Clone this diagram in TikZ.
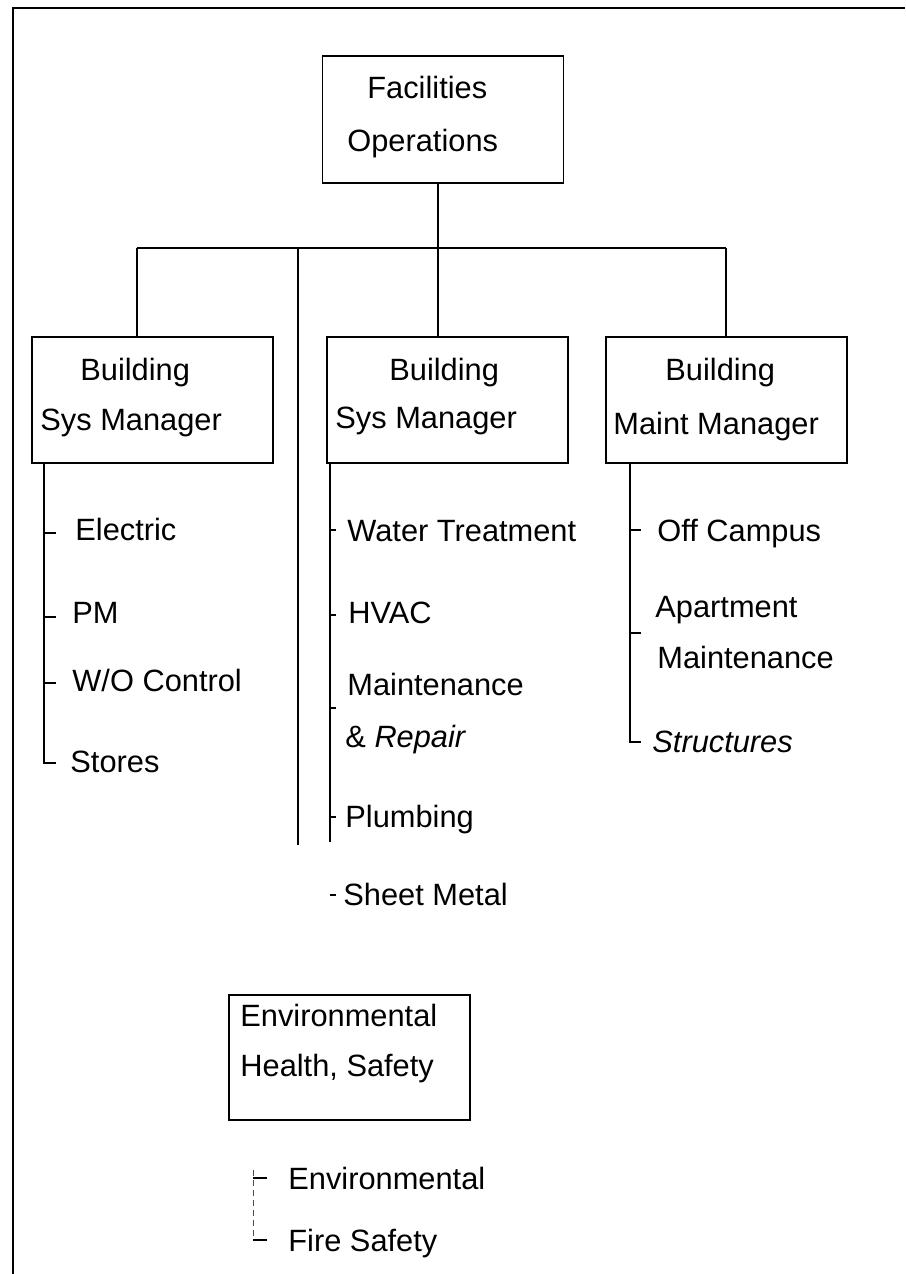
\documentclass[tikz,border=0pt]{standalone}
\usepackage{fontspec}
\setmainfont{Liberation Sans}
\begin{document}
\begin{tikzpicture}[x=0.5pt,y=-0.5pt,
  box/.style={draw=black, line width=0.8pt, minimum width=120.5pt, minimum height=63pt, inner sep=0pt},
  lbl/.style={anchor=base west, inner sep=0pt, font=\fontsize{15.4}{18}\selectfont},
  conn/.style={draw=black, line width=0.6pt},
  frame/.style={draw=black, line width=0.8pt},
  faint/.style={draw=black!70, line width=0.5pt, dash pattern=on 3pt off 2pt}]
\useasboundingbox (0,0) rectangle (905,1274);
% outer frame
\coordinate (fTL) at (13,8);
\coordinate (fTR) at (905,8);
\coordinate (fBL) at (13,1274);
\draw[frame] (fBL) -- (fTL) -- (fTR);

% boxes
\node[box, minimum height=63.5pt] (fac) at (443,119.5) {};
\node[box] (lbox) at (152.5,400) {};
\node[box] (mbox) at (447.5,400) {};
\node[box] (rbox) at (726.5,400) {};
\node[box, minimum height=62.5pt] (env) at (349.5,1057.5) {};

% box texts
\node[lbl] (tfac1) at (367,98) {Facilities};
\node[lbl] (tfac2) at (347,151) {Operations};
\node[lbl] (tl1) at (80,380) {Building};
\node[lbl] (tl2) at (40,430) {Sys Manager};
\node[lbl] (tm1) at (389,380) {Building};
\node[lbl] (tm2) at (335,428) {Sys Manager};
\node[lbl] (tr1) at (665,380) {Building};
\node[lbl] (tr2) at (613,434) {Maint Manager};
\node[lbl] (te1) at (240,1026) {Environmental};
\node[lbl] (te2) at (240,1076) {Health, Safety};

% tree connectors
\coordinate (barL) at (137,248);
\coordinate (barM) at (438,248);
\coordinate (barR) at (726,248);
\coordinate (barX) at (298,248);
\coordinate (xEnd) at (298,845);
\draw[conn] (barL) -- (barR);
\draw[conn] (fac.south -| barM) -- (barM) -- (barM |- mbox.north);
\draw[conn] (barL) -- (barL |- lbox.north);
\draw[conn] (barR) -- (barR |- rbox.north);
\draw[conn] (barX) -- (xEnd);

% left list
\node[lbl] (l1) at (75,540) {Electric};
\node[lbl] (l2) at (72,623) {PM};
\node[lbl] (l3) at (72,691) {W/O Control};
\node[lbl] (l4) at (70,772) {Stores};
\coordinate (lv) at (44,463);
\coordinate (lEnd) at (44,763);
\draw[conn] (lv) -- (lEnd) -- (56,763);
\draw[conn] (44,533) -- (56,533);
\draw[conn] (44,617) -- (56,617);
\draw[conn] (44,683) -- (56,683);

% middle list
\node[lbl] (m1) at (347,541) {Water Treatment};
\node[lbl] (m2) at (348,623) {HVAC};
\node[lbl] (m3) at (347,695) {Maintenance};
\node[lbl] (m4) at (345,747) {\& \textit{Repair}};
\node[lbl] (m5) at (345,827) {Plumbing};
\node[lbl] (m6) at (343,905) {Sheet Metal};
\coordinate (mv) at (330,463);
\coordinate (mEnd) at (330,842);
\draw[conn] (mv) -- (mEnd);
\draw[conn] (330,530) -- (336,530);
\draw[conn] (330,615) -- (336,615);
\draw[conn] (330,708) -- (336,708);
\draw[conn] (330,817) -- (336,817);
\draw[conn] (330,895) -- (336,895);

% right list
\node[lbl] (r1) at (657,541) {Off Campus};
\node[lbl] (r2) at (655,617) {Apartment};
\node[lbl] (r3) at (657,668) {Maintenance};
\node[lbl] (r4) at (652,752) {\textit{Structures}};
\coordinate (rv) at (630,463);
\coordinate (rEnd) at (630,742);
\draw[conn] (rv) -- (rEnd) -- (641,742);
\draw[conn] (630,530) -- (641,530);
\draw[conn] (630,633) -- (641,633);

% environmental list
\node[lbl] (e1) at (288,1189) {Environmental};
\node[lbl] (e2) at (288,1251) {Fire Safety};
\coordinate (ev) at (253,1170);
\coordinate (eEnd) at (253,1240);
\draw[faint] (ev) -- (eEnd);
\draw[conn] (253,1178) -- (267,1178);
\draw[conn] (253,1240) -- (267,1240);
\end{tikzpicture}
\end{document}
